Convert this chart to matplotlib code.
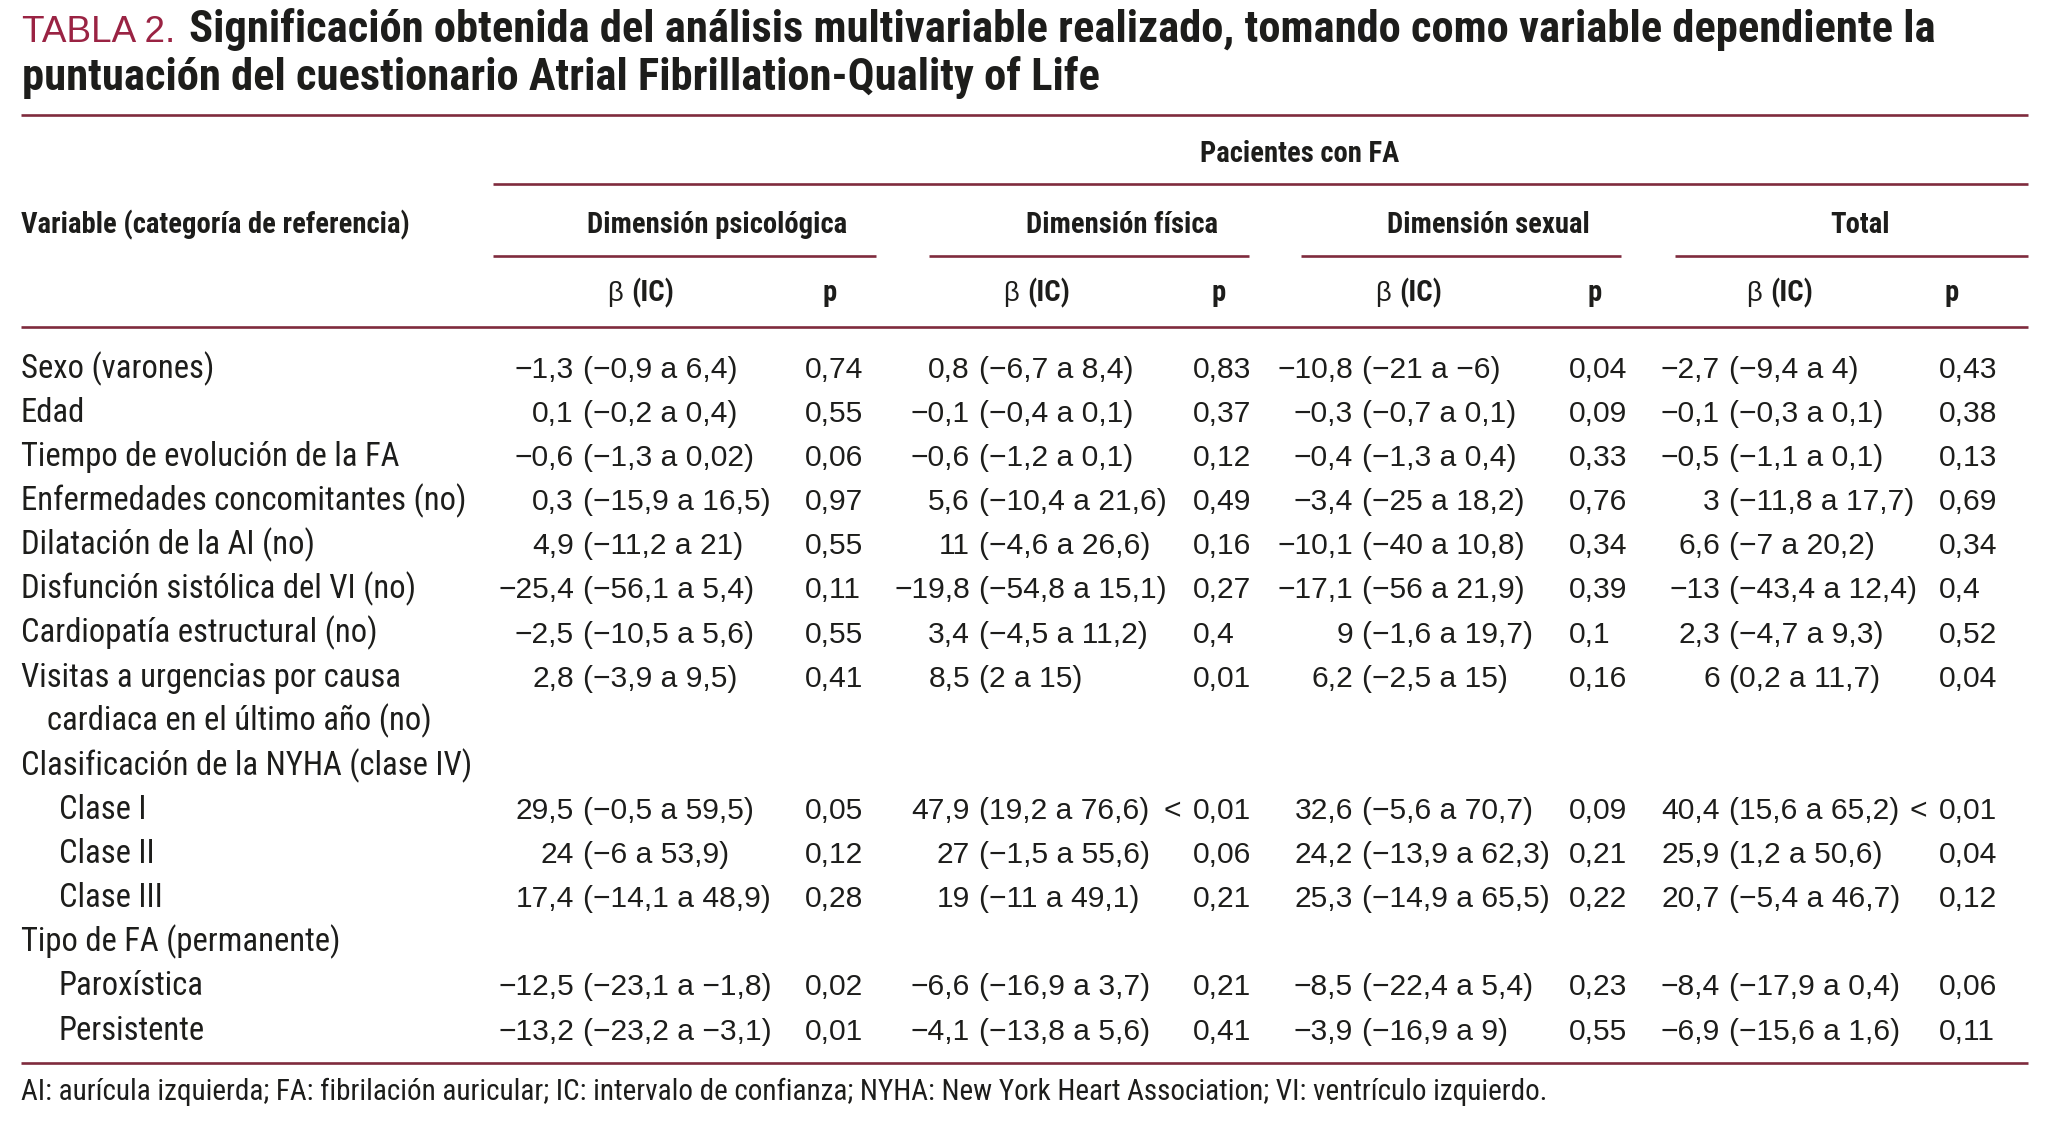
import matplotlib
matplotlib.use("Agg")
import matplotlib.pyplot as plt
from matplotlib import font_manager as fm
from matplotlib.font_manager import FontProperties

# ---------------- data ----------------
title_label = "TABLA 2."
title_line1 = "Significación obtenida del análisis multivariable realizado, tomando como variable dependiente la"
title_line2 = "puntuación del cuestionario Atrial Fibrillation-Quality of Life"
stub_header = "Variable (categoría de referencia)"
spanner = "Pacientes con FA"
groups = ["Dimensión psicológica", "Dimensión física", "Dimensión sexual", "Total"]
sub_beta = "β"
sub_ic = "(IC)"
sub_p = "p"

row_labels = [
    "Sexo (varones)", "Edad", "Tiempo de evolución de la FA",
    "Enfermedades concomitantes (no)", "Dilatación de la AI (no)",
    "Disfunción sistólica del VI (no)", "Cardiopatía estructural (no)",
    "Visitas a urgencias por causa", "cardiaca en el último año (no)",
    "Clasificación de la NYHA (clase IV)", "Clase I", "Clase II", "Clase III",
    "Tipo de FA (permanente)", "Paroxística", "Persistente",
]
# 0 = variable, 1 = continued line, 2 = category
row_levels = [0, 0, 0, 0, 0, 0, 0, 0, 1, 0, 2, 2, 2, 0, 2, 2]

psych_beta = ["−1,3 (−0,9 a 6,4)", "0,1 (−0,2 a 0,4)", "−0,6 (−1,3 a 0,02)",
              "0,3 (−15,9 a 16,5)", "4,9 (−11,2 a 21)", "−25,4 (−56,1 a 5,4)",
              "−2,5 (−10,5 a 5,6)", "2,8 (−3,9 a 9,5)", "", "",
              "29,5 (−0,5 a 59,5)", "24 (−6 a 53,9)", "17,4 (−14,1 a 48,9)", "",
              "−12,5 (−23,1 a −1,8)", "−13,2 (−23,2 a −3,1)"]
psych_p = ["0,74", "0,55", "0,06", "0,97", "0,55", "0,11", "0,55", "0,41", "", "",
           "0,05", "0,12", "0,28", "", "0,02", "0,01"]
phys_beta = ["0,8 (−6,7 a 8,4)", "−0,1 (−0,4 a 0,1)", "−0,6 (−1,2 a 0,1)",
             "5,6 (−10,4 a 21,6)", "11 (−4,6 a 26,6)", "−19,8 (−54,8 a 15,1)",
             "3,4 (−4,5 a 11,2)", "8,5 (2 a 15)", "", "",
             "47,9 (19,2 a 76,6)", "27 (−1,5 a 55,6)", "19 (−11 a 49,1)", "",
             "−6,6 (−16,9 a 3,7)", "−4,1 (−13,8 a 5,6)"]
phys_p = ["0,83", "0,37", "0,12", "0,49", "0,16", "0,27", "0,4", "0,01", "", "",
          "< 0,01", "0,06", "0,21", "", "0,21", "0,41"]
sex_beta = ["−10,8 (−21 a −6)", "−0,3 (−0,7 a 0,1)", "−0,4 (−1,3 a 0,4)",
            "−3,4 (−25 a 18,2)", "−10,1 (−40 a 10,8)", "−17,1 (−56 a 21,9)",
            "9 (−1,6 a 19,7)", "6,2 (−2,5 a 15)", "", "",
            "32,6 (−5,6 a 70,7)", "24,2 (−13,9 a 62,3)", "25,3 (−14,9 a 65,5)", "",
            "−8,5 (−22,4 a 5,4)", "−3,9 (−16,9 a 9)"]
sex_p = ["0,04", "0,09", "0,33", "0,76", "0,34", "0,39", "0,1", "0,16", "", "",
         "0,09", "0,21", "0,22", "", "0,23", "0,55"]
tot_beta = ["−2,7 (−9,4 a 4)", "−0,1 (−0,3 a 0,1)", "−0,5 (−1,1 a 0,1)",
            "3 (−11,8 a 17,7)", "6,6 (−7 a 20,2)", "−13 (−43,4 a 12,4)",
            "2,3 (−4,7 a 9,3)", "6 (0,2 a 11,7)", "", "",
            "40,4 (15,6 a 65,2)", "25,9 (1,2 a 50,6)", "20,7 (−5,4 a 46,7)", "",
            "−8,4 (−17,9 a 0,4)", "−6,9 (−15,6 a 1,6)"]
tot_p = ["0,43", "0,38", "0,13", "0,69", "0,34", "0,4", "0,52", "0,04", "", "",
         "< 0,01", "0,04", "0,12", "", "0,06", "0,11"]

footnote = ("AI: aurícula izquierda; FA: fibrilación auricular; IC: intervalo de confianza; "
            "NYHA: New York Heart Association; VI: ventrículo izquierdo.")

# ---------------- style / layout ----------------
W, H = 2045, 1141
MAROON_T = "#9a2343"
MAROON = "#7f2b3d"
INK = "#1d1d1b"

names = {f.name for f in fm.fontManager.ttflist}
BODY = "Liberation Sans" if "Liberation Sans" in names else "DejaVu Sans"


def find_condensed(bold):
    prefs = ["liberation sans narrow", "roboto condensed", "open sans condensed",
             "noto sans condensed", "dejavu sans condensed", "arial narrow"]
    found = []
    for f in fm.fontManager.ttflist:
        n = f.name.lower()
        fn = f.fname.lower()
        is_cond = ("narrow" in n or "condensed" in n or "condensed" in fn or "narrow" in fn
                   or str(f.stretch) in ("condensed", "semi-condensed", "extra-condensed"))
        if not is_cond or "italic" in fn or "oblique" in fn or str(f.style) != "normal":
            continue
        w = f.weight if isinstance(f.weight, int) else (700 if "bold" in str(f.weight) else 400)
        if bold and w < 600:
            continue
        if not bold and not (350 <= w <= 450):
            continue
        rank = len(prefs)
        for k, p in enumerate(prefs):
            if p in n or p.replace(" ", "") in fn.replace("-", "").replace("_", ""):
                rank = k
                break
        found.append((rank, abs(w - (700 if bold else 400)), f.fname))
    if found:
        found.sort()
        return FontProperties(fname=found[0][2])
    return None


bold_fp = find_condensed(True)
if bold_fp is None:
    bold_fp = FontProperties(family=BODY, weight="bold")
reg_fp = find_condensed(False)
if reg_fp is None:
    reg_fp = FontProperties(family=BODY)

fig = plt.figure(figsize=(W / 100, H / 100), dpi=100)
fig.patch.set_facecolor("white")
ax = fig.add_axes([0, 0, 1, 1])
ax.set_xlim(0, W)
ax.set_ylim(H, 0)
ax.axis("off")
renderer = fig.canvas.get_renderer()


def fp_plain(size):
    return FontProperties(family=BODY, size=size)


def fp_body(size):
    fp = reg_fp.copy()
    fp.set_size(size)
    return fp


def fp_bold(size):
    fp = bold_fp.copy()
    fp.set_size(size)
    return fp


def fit_size(text, target, maker, base=20.0):
    t = ax.text(0, 0, text, fontproperties=maker(base))
    w = t.get_window_extent(renderer=renderer).width
    t.remove()
    return base * target / w


fs_body = fit_size("Enfermedades concomitantes (no)", 444, fp_body)
fs_num = fit_size("−19,8 (−54,8 a 15,1)", 273, fp_plain)
fs_head = fit_size(stub_header, 386, fp_bold)
fs_foot = fit_size(footnote, 1525, fp_body)

# title
fs_tlab = fit_size(title_label, 153, fp_plain)
t0 = ax.text(22, 42, title_label, fontproperties=fp_plain(fs_tlab), color=MAROON_T, va="baseline")
x_after = t0.get_window_extent(renderer=renderer).x1 + 14
fs_title = fit_size(title_line1, 1932 - x_after, fp_bold)
ax.text(x_after, 42, title_line1, fontproperties=fp_bold(fs_title), color=INK, va="baseline")
ax.text(22, 90, title_line2, fontproperties=fp_bold(fs_title), color=INK, va="baseline")

LW = 1.9
XL, XR = 21, 2028


def hrule(y, x0, x1):
    ax.plot([x0, x1], [y, y], color=MAROON, lw=LW, solid_capstyle="butt")


hrule(115, XL, XR)
hrule(184, 493, XR)
hrule(327, XL, XR)
hrule(1063, XL, XR)
group_rules = [(493, 876), (929, 1249), (1301, 1621), (1675, XR)]
for a, b in group_rules:
    hrule(256, a, b)

# headers
HB = fp_bold(fs_head)
ax.text(1300, 162, spanner, fontproperties=HB, color=INK, ha="center", va="baseline")
ax.text(XL, 233, stub_header, fontproperties=HB, color=INK, ha="left", va="baseline")
group_x = [717, 1122, 1488, 1860]
for g, gx in zip(groups, group_x):
    ax.text(gx, 233, g, fontproperties=HB, color=INK, ha="center", va="baseline")
ic_x = [631, 1027, 1399, 1770]
p_hdr_x = [830, 1219, 1595, 1952]
for ix, px in zip(ic_x, p_hdr_x):
    ax.text(ix - 8, 301, sub_beta, fontproperties=fp_plain(fs_head * 0.95), color=INK,
            ha="right", va="baseline")
    ax.text(ix, 301, sub_ic, fontproperties=HB, color=INK, ha="left", va="baseline")
    ax.text(px, 301, sub_p, fontproperties=HB, color=INK, ha="center", va="baseline")

# body
FB = fp_body(fs_body)
FN = fp_plain(fs_num)
BASE0, STEP = 378, 44.1
indent_x = {0: XL, 1: 47, 2: 59}
for i, (lab, lev) in enumerate(zip(row_labels, row_levels)):
    ax.text(indent_x[lev], BASE0 + STEP * i, lab, fontproperties=FB,
            color=INK, ha="left", va="baseline")

est_right = [574, 970, 1353, 1720]
p_left = [805, 1193, 1569, 1939]
cols = [(psych_beta, psych_p), (phys_beta, phys_p), (sex_beta, sex_p), (tot_beta, tot_p)]
for (betas, ps), ex, px in zip(cols, est_right, p_left):
    for i, (b, p) in enumerate(zip(betas, ps)):
        y = BASE0 + STEP * i
        if b:
            est, ci = b.split(" ", 1)
            ax.text(ex, y, est, fontproperties=FN, color=INK, ha="right", va="baseline")
            ax.text(ex + 9, y, ci, fontproperties=FN, color=INK, ha="left", va="baseline")
        if p:
            if p.startswith("<"):
                ax.text(px - 12, y, "<", fontproperties=FN, color=INK, ha="right", va="baseline")
                p = p[1:].strip()
            ax.text(px, y, p, fontproperties=FN, color=INK, ha="left", va="baseline")

ax.text(XL, 1100, footnote, fontproperties=fp_body(fs_foot), color=INK,
        ha="left", va="baseline")

fig.savefig("out.png", dpi=100, facecolor="white")
